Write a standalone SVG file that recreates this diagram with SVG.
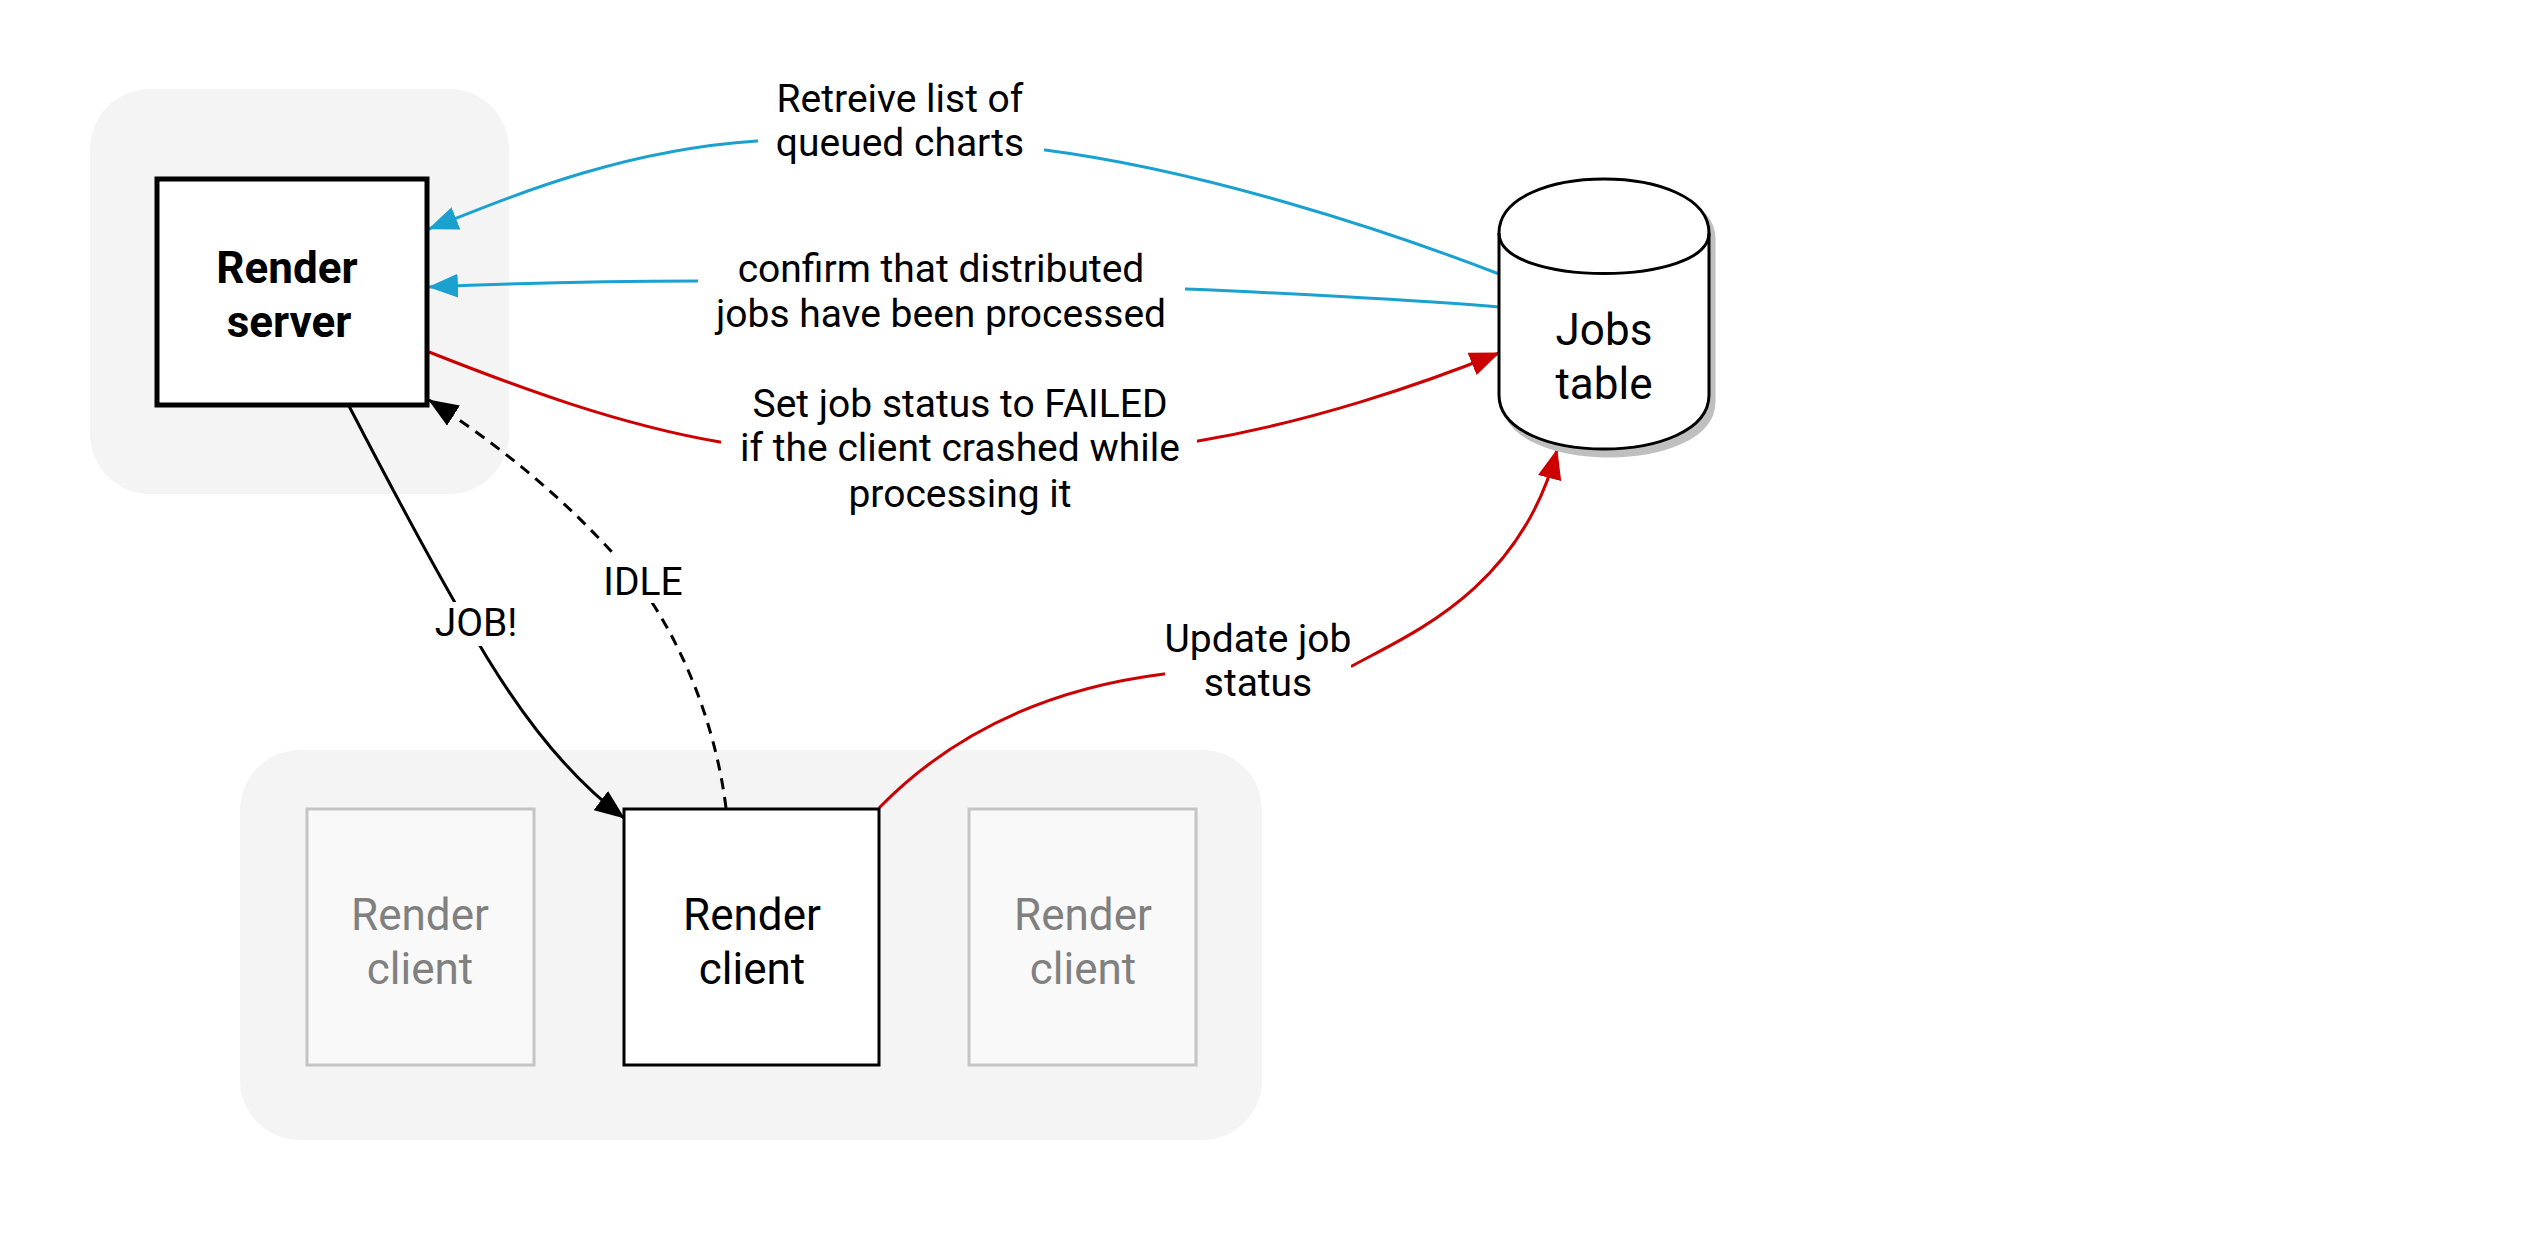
<svg xmlns="http://www.w3.org/2000/svg" width="2546" height="1256" viewBox="0 0 2546 1256">
<defs>
<style>
.bg{fill:#f4f4f4;stroke:none}
.lbl{font-family:Roboto,"Liberation Sans",sans-serif;font-size:39px;fill:#000;text-anchor:middle}
.node{font-family:Roboto,"Liberation Sans",sans-serif;font-size:44px;text-anchor:middle}
.gap{fill:#ffffff;stroke:none}
.blue{fill:none;stroke:#1ba1cf;stroke-width:3}
.red{fill:none;stroke:#cc0000;stroke-width:3}
.blk{fill:none;stroke:#000;stroke-width:3}
.dash{stroke-dasharray:11 8}
</style>
<marker id="aBlue" viewBox="0 0 30 24" refX="29" refY="12" markerWidth="30" markerHeight="24" markerUnits="userSpaceOnUse" orient="auto"><path d="M0,0 L30,12 L0,24 Z" fill="#1ba1cf"/></marker>
<marker id="aRed" viewBox="0 0 30 24" refX="29" refY="12" markerWidth="30" markerHeight="24" markerUnits="userSpaceOnUse" orient="auto"><path d="M0,0 L30,12 L0,24 Z" fill="#cc0000"/></marker>
<marker id="aBlk" viewBox="0 0 30 24" refX="29" refY="12" markerWidth="30" markerHeight="24" markerUnits="userSpaceOnUse" orient="auto"><path d="M0,0 L30,12 L0,24 Z" fill="#000"/></marker>
</defs>
<rect width="2546" height="1256" fill="#ffffff"/>

<g id="server-group-bg"><rect class="bg" x="90" y="89" width="419" height="405" rx="60"/></g>
<g id="client-group-bg"><rect class="bg" x="240" y="750" width="1022" height="390" rx="60"/></g>

<g id="connectors">
  <g id="e-retrieve">
    <path class="blue" marker-end="url(#aBlue)" d="M1499,274 C1380,228 1200,170 1045,150 C950,138 850,135 757,141 C620,150 510,197 429,229"/>
    <rect class="gap" x="758" y="84" width="286" height="82"/>
    <text class="lbl" x="900" y="112">Retreive list of</text>
    <text class="lbl" x="900" y="156">queued charts</text>
  </g>
  <g id="e-confirm">
    <path class="blue" marker-end="url(#aBlue)" d="M1499,307 C1420,300 1260,292 1186,289 L697,281 C600,281 500,284 429,287"/>
    <rect class="gap" x="698" y="246" width="487" height="92"/>
    <text class="lbl" x="941" y="282">confirm that distributed</text>
    <text class="lbl" x="941" y="327">jobs have been processed</text>
  </g>
  <g id="e-failed">
    <path class="red" marker-end="url(#aRed)" d="M429,352 C520,388 620,425 720,442 C880,470 1050,465 1198,441 C1310,422 1420,385 1499,353"/>
    <rect class="gap" x="721" y="380" width="476" height="140"/>
    <text class="lbl" x="960" y="417">Set job status to FAILED</text>
    <text class="lbl" x="960" y="461">if the client crashed while</text>
    <text class="lbl" x="960" y="507">processing it</text>
  </g>
  <g id="e-update">
    <path class="red" marker-end="url(#aRed)" d="M879,808 C960,725 1060,687 1164,674 L1352,666 C1410,634 1520,590 1557,450"/>
    <rect class="gap" x="1165" y="617" width="186" height="90"/>
    <text class="lbl" x="1258" y="652">Update job</text>
    <text class="lbl" x="1258" y="696">status</text>
  </g>
  <g id="e-job">
    <path class="blk" marker-end="url(#aBlk)" d="M349,406 C390,485 430,560 465,620 C510,700 560,770 624,818"/>
    <rect class="gap" x="434" y="602" width="86" height="44"/>
    <text class="lbl" x="476" y="636">JOB!</text>
  </g>
  <g id="e-idle">
    <path class="blk dash" marker-end="url(#aBlk)" d="M726,808 C715,720 680,640 640,585 C580,510 500,445 429,400"/>
    <rect class="gap" x="599" y="556" width="88" height="47"/>
    <text class="lbl" x="643" y="595">IDLE</text>
  </g>
</g>

<g id="render-server">
  <rect x="157" y="179" width="270" height="226" fill="#ffffff" stroke="#000" stroke-width="5"/>
  <text class="node" x="287" y="283" font-weight="bold" font-size="45">Render</text>
  <text class="node" x="289" y="337" font-weight="bold" font-size="45">server</text>
</g>

<g id="jobs-table">
  <path d="M1504,239 C1504,167 1714,167 1714,239 L1714,402 C1714,474 1504,474 1504,402 Z" fill="#bfbfbf" stroke="#bfbfbf" stroke-width="3"/>
  <path d="M1499,233 C1499,161 1709,161 1709,233 L1709,395 C1709,467 1499,467 1499,395 Z" fill="#ffffff" stroke="#000" stroke-width="3"/>
  <path d="M1499,233 C1499,287 1709,287 1709,233" fill="none" stroke="#000" stroke-width="3"/>
  <text class="node" x="1604" y="345">Jobs</text>
  <text class="node" x="1604" y="399">table</text>
</g>

<g id="client-left">
  <rect x="307" y="809" width="227" height="256" fill="#f9f9f9" stroke="#c4c4c4" stroke-width="3"/>
  <text class="node" x="420" y="930" fill="#808080">Render</text>
  <text class="node" x="420" y="984" fill="#808080">client</text>
</g>
<g id="client-main">
  <rect x="624" y="809" width="255" height="256" fill="#ffffff" stroke="#000" stroke-width="3"/>
  <text class="node" x="752" y="930" fill="#000">Render</text>
  <text class="node" x="752" y="984" fill="#000">client</text>
</g>
<g id="client-right">
  <rect x="969" y="809" width="227" height="256" fill="#f9f9f9" stroke="#c4c4c4" stroke-width="3"/>
  <text class="node" x="1083" y="930" fill="#808080">Render</text>
  <text class="node" x="1083" y="984" fill="#808080">client</text>
</g>
</svg>
